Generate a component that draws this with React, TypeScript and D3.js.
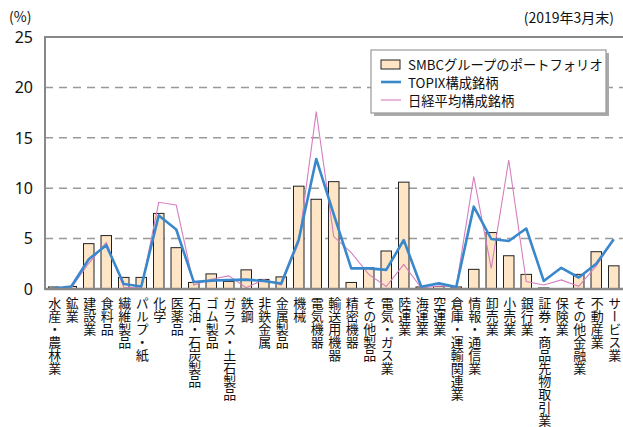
import React, { useEffect, useRef } from "react";
import * as d3 from "d3";

const categories = [
  "水産・農林業", "鉱業", "建設業", "食料品", "繊維製品", "パルプ・紙", "化学", "医薬品",
  "石油・石炭製品", "ゴム製品", "ガラス・土石製品", "鉄鋼", "非鉄金属", "金属製品", "機械",
  "電気機器", "輸送用機器", "精密機器", "その他製品", "電気・ガス業", "陸運業", "海運業",
  "空運業", "倉庫・運輸関連業", "情報・通信業", "卸売業", "小売業", "銀行業",
  "証券・商品先物取引業", "保険業", "その他金融業", "不動産業", "サービス業"
];

const portfolio = [
  0.2, 0.25, 4.5, 5.3, 1.15, 1.15, 7.5, 4.1, 0.65, 1.5, 0.75, 1.9, 0.95, 1.2, 10.2, 8.9,
  10.65, 0.65, 2.1, 3.77, 10.6, 0.2, 0.25, 0.2, 1.95, 5.6, 3.3, 1.45, 0.1, 0, 1.45, 3.7, 2.3
];

const topix = [
  0.05, 0.25, 2.95, 4.35, 0.5, 0.25, 7.3, 5.9, 0.7, 0.83, 0.9, 0.93, 0.8, 0.55, 4.9, 12.9,
  7.4, 2.05, 2.05, 1.9, 4.86, 0.23, 0.56, 0.2, 8.17, 4.96, 4.76, 6.0, 0.8, 2.1, 1.14, 2.5, 4.93
];

const nikkei = [
  0.05, 0.1, 2.55, 4.6, 0.17, 0.1, 8.6, 8.33, 0.4, 0.96, 1.3, 0.13, 0.93, 0.4, 4.6, 17.6,
  5.2, 3.6, 1.45, 0.25, 2.45, 0.1, 0.3, 0.2, 11.14, 2.05, 12.8, 0.73, 0.4, 0.9, 0.27, 2.3, 4.88
];

const yTicks = [0, 5, 10, 15, 20, 25];

const legendLabels = ["SMBCグループのポートフォリオ", "TOPIX構成銘柄", "日経平均構成銘柄"];

const W = 623;
const H = 427;
const JP = "'Noto Sans CJK JP', 'Noto Sans', sans-serif";

const App: React.FC = () => {
  const svgRef = useRef<SVGSVGElement>(null);

  useEffect(() => {
    document.body.style.margin = "0";
    if (!svgRef.current) return;
    const svg = d3.select(svgRef.current);
    svg.selectAll("*").remove();

    const left = 45;
    const right = 622.5;
    const top = 37;
    const bottom = 289;

    const x = d3.scaleBand<string>().domain(categories).range([left, right]).paddingInner(0.4).paddingOuter(0.2);
    const xc = (i: number) => x(categories[i])! + x.bandwidth() / 2;
    const y = d3.scaleLinear().domain([0, 25]).range([bottom, top]);

    // grid
    svg.append("g")
      .selectAll("line")
      .data(yTicks.filter(t => t > 0 && t < 25))
      .enter()
      .append("line")
      .attr("x1", left)
      .attr("x2", W)
      .attr("y1", d => y(d))
      .attr("y2", d => y(d))
      .attr("stroke", "#999")
      .attr("stroke-width", 1.5)
      .attr("stroke-dasharray", "8,6");

    // bars
    svg.append("g")
      .selectAll("rect")
      .data(portfolio)
      .enter()
      .append("rect")
      .attr("x", (_, i) => x(categories[i])!)
      .attr("y", d => y(d))
      .attr("width", x.bandwidth())
      .attr("height", d => bottom - y(d))
      .attr("fill", "#fde5c6")
      .attr("stroke", "#222")
      .attr("stroke-width", 1);

    // lines
    const line = d3.line<number>().x((_, i) => xc(i)).y(d => y(d));
    svg.append("path")
      .datum(nikkei)
      .attr("d", line)
      .attr("fill", "none")
      .attr("stroke", "#d67fc0")
      .attr("stroke-width", 1.1);
    svg.append("path")
      .datum(topix)
      .attr("d", line)
      .attr("fill", "none")
      .attr("stroke", "#3a88cc")
      .attr("stroke-width", 2.6)
      .attr("stroke-linejoin", "round");

    // frame
    svg.append("line").attr("x1", left).attr("x2", W).attr("y1", top).attr("y2", top)
      .attr("stroke", "#888").attr("stroke-width", 2);
    svg.append("line").attr("x1", left).attr("x2", W).attr("y1", bottom).attr("y2", bottom)
      .attr("stroke", "#888").attr("stroke-width", 2.5);
    svg.append("line").attr("x1", left).attr("x2", left).attr("y1", top - 1).attr("y2", bottom + 1)
      .attr("stroke", "#888").attr("stroke-width", 2);

    // y tick labels
    svg.append("g")
      .selectAll("text")
      .data(yTicks)
      .enter()
      .append("text")
      .attr("x", 33)
      .attr("y", d => y(d))
      .attr("dy", "0.36em")
      .attr("text-anchor", "end")
      .style("font-family", "'Noto Sans', sans-serif")
      .style("font-size", "16px")
      .attr("fill", "#111")
      .text(d => d);

    svg.append("text")
      .attr("x", 9).attr("y", 22)
      .style("font-family", JP).style("font-size", "14px").attr("fill", "#111")
      .text("(%)");

    svg.append("text")
      .attr("x", 614).attr("y", 23)
      .attr("text-anchor", "end")
      .style("font-family", JP).style("font-size", "14px").attr("fill", "#111")
      .text("(2019年3月末)");

    // category labels (vertical)
    svg.append("g")
      .selectAll("text")
      .data(categories)
      .enter()
      .append("text")
      .attr("x", (_, i) => xc(i) + 1)
      .attr("y", 297)
      .attr("writing-mode", "vertical-rl")
      .style("font-family", JP)
      .style("font-size", "13px")
      .attr("fill", "#111")
      .text(d => d);

    // legend
    const lg = svg.append("g").attr("transform", "translate(371,50)");
    lg.append("rect").attr("x", 3).attr("y", 3).attr("width", 235).attr("height", 63).attr("fill", "#aaa");
    lg.append("rect").attr("x", 0).attr("y", 0).attr("width", 235).attr("height", 63)
      .attr("fill", "#fff").attr("stroke", "#999").attr("stroke-width", 1.2);
    lg.append("rect").attr("x", 10).attr("y", 10).attr("width", 19).attr("height", 9)
      .attr("fill", "#fde5c6").attr("stroke", "#222");
    lg.append("line").attr("x1", 10).attr("x2", 30).attr("y1", 32).attr("y2", 32)
      .attr("stroke", "#3a88cc").attr("stroke-width", 2.6);
    lg.append("line").attr("x1", 10).attr("x2", 30).attr("y1", 50).attr("y2", 50)
      .attr("stroke", "#d67fc0").attr("stroke-width", 1.1);
    lg.selectAll("text.l")
      .data(legendLabels)
      .enter()
      .append("text")
      .attr("x", 37)
      .attr("y", (_, i) => 15 + i * 18)
      .attr("dy", "0.36em")
      .style("font-family", JP)
      .style("font-size", "13.3px")
      .attr("fill", "#111")
      .text(d => d);
  }, []);

  return <svg ref={svgRef} width={W} height={H} style={{ display: "block" }}></svg>;
};

export default App;
